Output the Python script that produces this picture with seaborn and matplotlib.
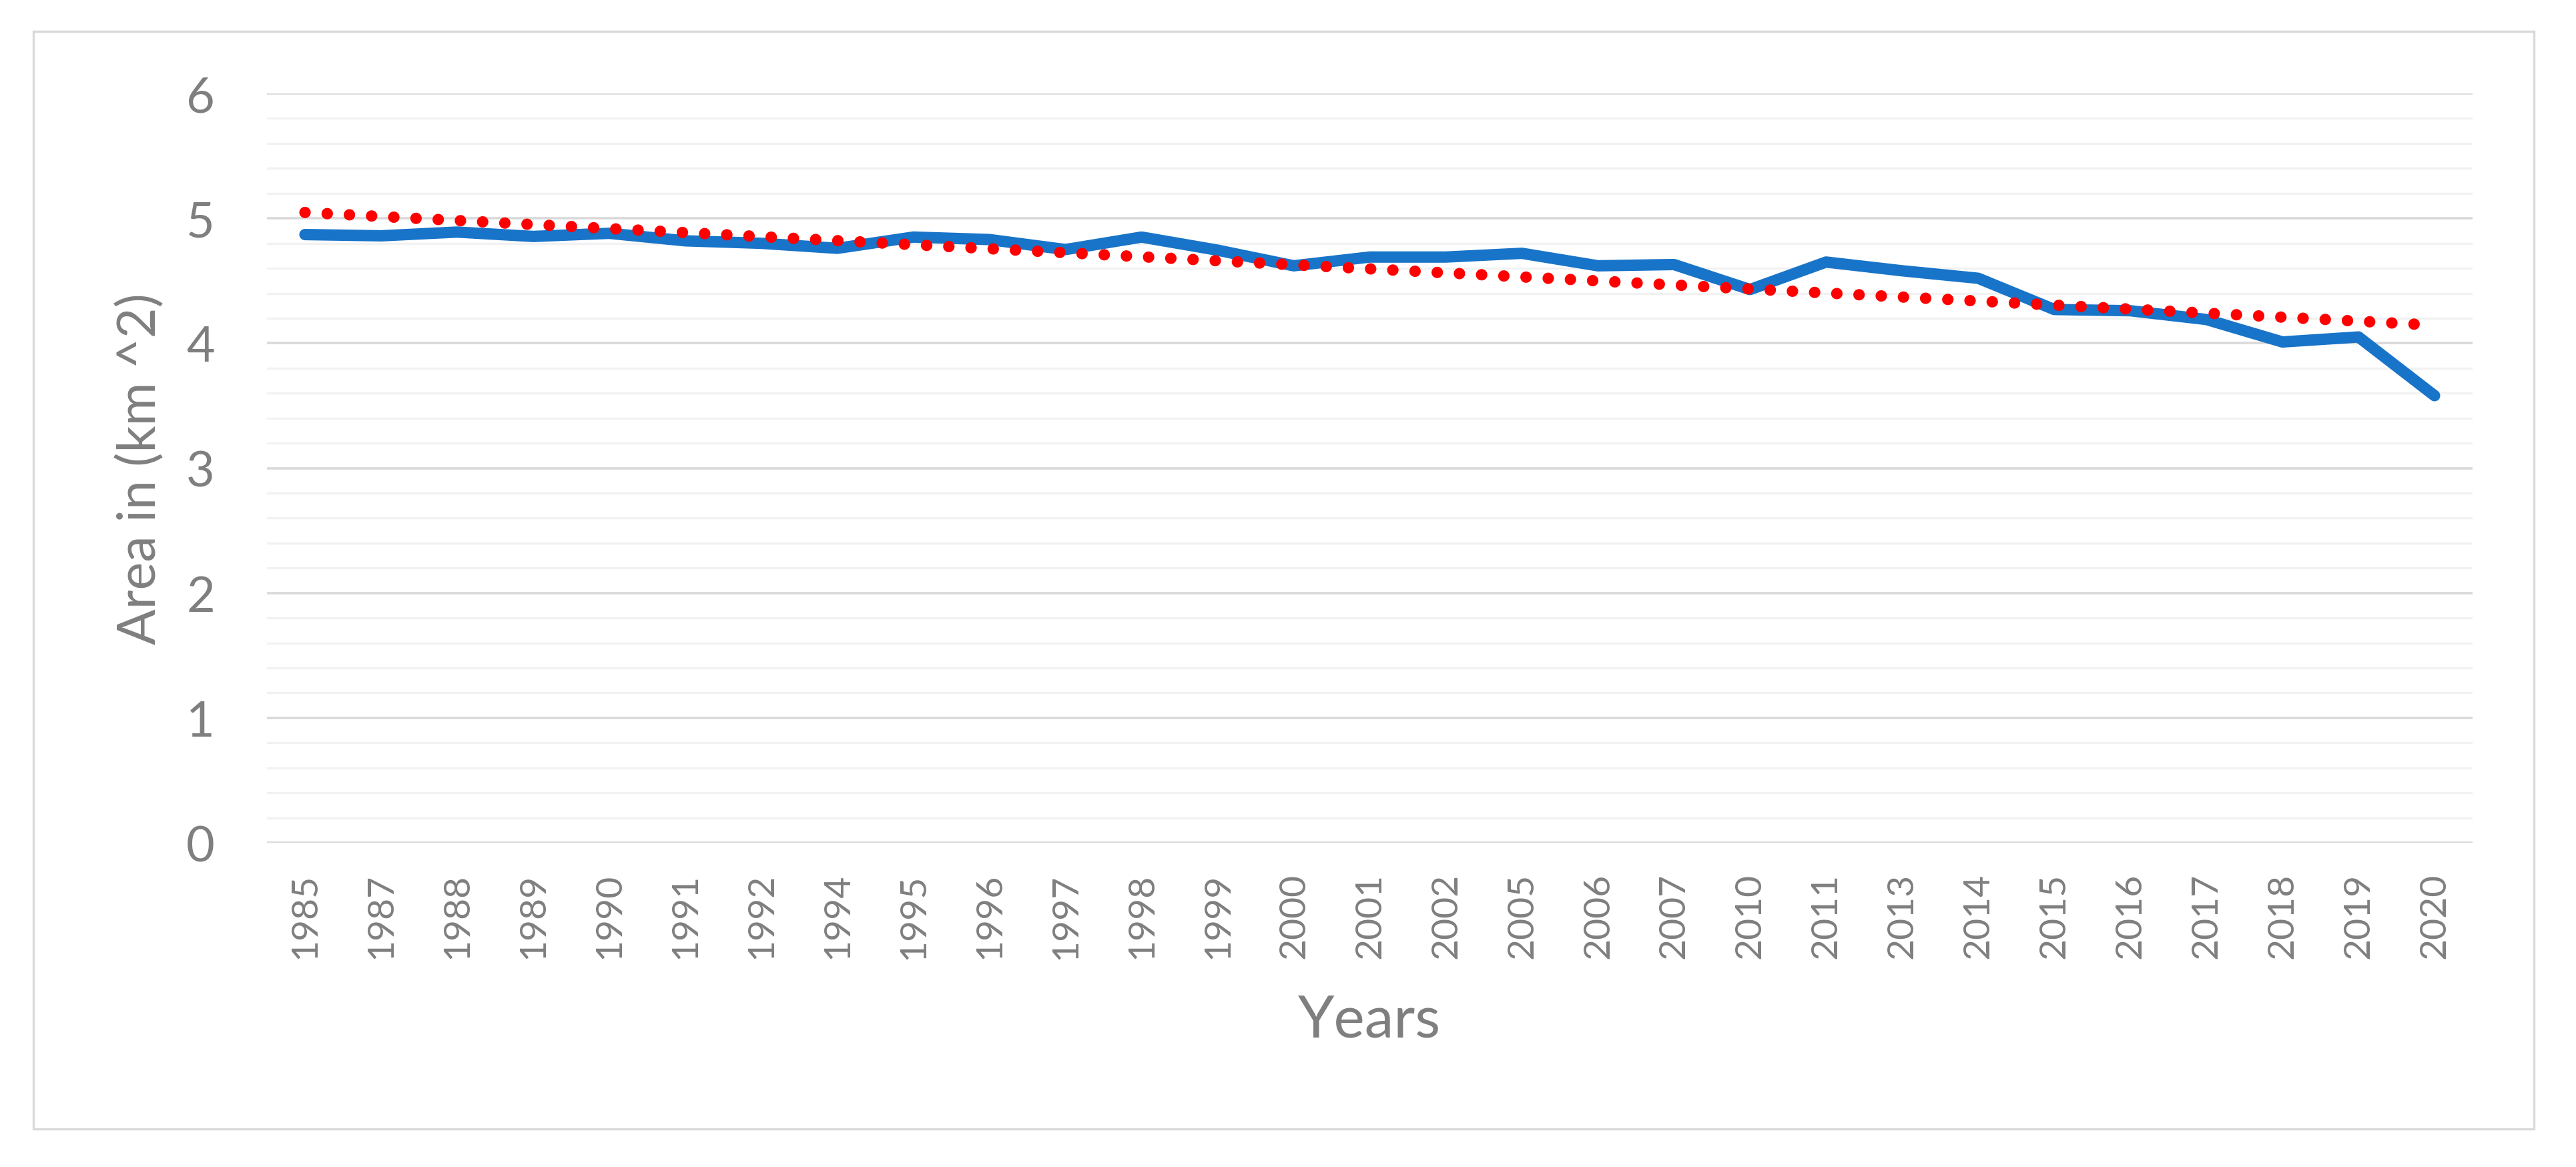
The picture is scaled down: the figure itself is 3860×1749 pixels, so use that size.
import numpy as np
import pandas as pd
import matplotlib
matplotlib.use("Agg")
import matplotlib.pyplot as plt
from matplotlib.patches import Rectangle
from matplotlib.ticker import MultipleLocator
import seaborn as sns


### Data

years = ['1985', '1987', '1988', '1989', '1990', '1991', '1992', '1994', '1995', '1996',
         '1997', '1998', '1999', '2000', '2001', '2002', '2005', '2006', '2007', '2010',
         '2011', '2013', '2014', '2015', '2016', '2017', '2018', '2019', '2020']

area_km2 = [4.87, 4.86, 4.89, 4.855, 4.88, 4.82, 4.80, 4.76, 4.85, 4.83,
            4.75, 4.85, 4.745, 4.62, 4.69, 4.69, 4.72, 4.62, 4.63, 4.43,
            4.65, 4.58, 4.52, 4.27, 4.26, 4.19, 4.01, 4.05, 3.58]

y_ticks = [0, 1, 2, 3, 4, 5, 6]

df = pd.DataFrame({'year': years, 'area': area_km2})
df['pos'] = np.arange(len(df))

sns.set_theme(style='white')
plt.rcParams['font.family'] = ['Lato', 'DejaVu Sans']

text_grey = '#7f7f7f'

fig = plt.figure(figsize=(12.87, 5.8333), dpi=300)
ax = fig.add_axes([0.1036, 0.2777, 0.8560, 0.6417])

# grid: minor every 0.2, major every unit
ax.set_ylim(0, 6)
ax.set_xlim(-0.5, len(df) - 0.5)
ax.yaxis.set_major_locator(MultipleLocator(1))
ax.yaxis.set_minor_locator(MultipleLocator(0.2))
ax.grid(axis='y', which='minor', color='#f2f2f2', linewidth=0.8, zorder=0)
ax.grid(axis='y', which='major', color='#d9d9d9', linewidth=0.85, zorder=0)
ax.grid(axis='x', visible=False)
ax.set_axisbelow(True)

sns.lineplot(data=df, x='pos', y='area', ax=ax, color='#1874c8', linewidth=4.1,
             solid_capstyle='round', solid_joinstyle='round', zorder=3)

# linear trend line, as Excel draws it
sns.regplot(data=df, x='pos', y='area', ax=ax, scatter=False, ci=None,
            line_kws=dict(color='#ff0000', linewidth=4.1,
                          linestyle=(0, (0.01, 1.94)),
                          dash_capstyle='round', zorder=4))

for s in ax.spines.values():
    s.set_visible(False)

ax.set_xticks(df['pos'])
ax.set_xticklabels(df['year'], rotation=90, fontsize=13.3, color=text_grey)
ax.set_yticks(y_ticks)
ax.set_yticklabels([str(v) for v in y_ticks], fontsize=17.7, color=text_grey)
ax.tick_params(axis='x', length=0, pad=10.8)
ax.tick_params(axis='y', which='both', length=0, pad=18.7)

ax.set_xlabel('Years', fontsize=21, color=text_grey)
ax.set_ylabel('Area in (km ^2)', fontsize=19, color=text_grey)
ax.xaxis.set_label_coords(0.5, -0.237)
ax.xaxis.label.set_va('center')
ax.yaxis.set_label_coords(-0.0572, 0.5)
ax.yaxis.label.set_va('center')

# chart area border
fig.patches.append(Rectangle((50 / 3861, 1 - 1693 / 1750), 3747 / 3861, 1645 / 1750,
                             transform=fig.transFigure, fill=False,
                             edgecolor='#d9d9d9', linewidth=0.8))

fig.savefig('out.png', dpi=300, facecolor='white')
